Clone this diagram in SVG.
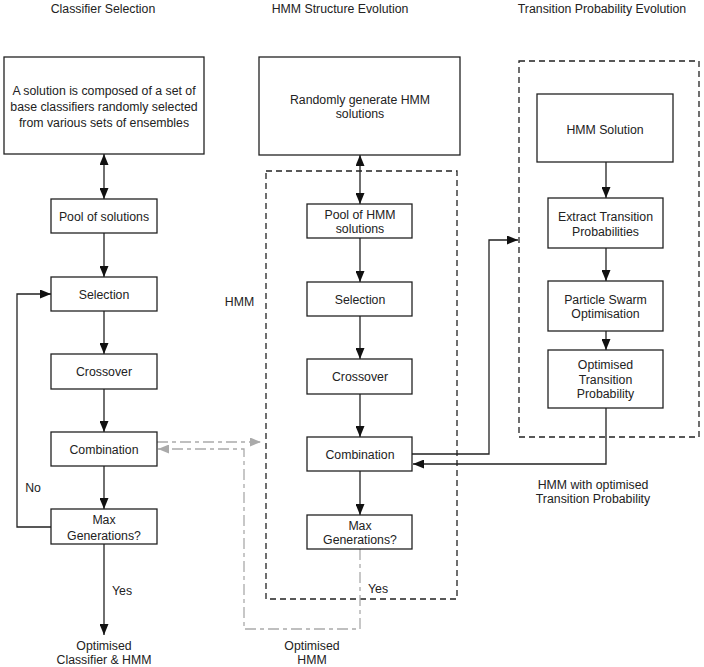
<svg xmlns="http://www.w3.org/2000/svg" width="704" height="667" viewBox="0 0 704 667">
<style>
text{font-family:"Liberation Sans",Arial,Helvetica,sans-serif;font-size:12.3px;fill:#222;text-anchor:middle}
.box{fill:#fff;stroke:#222;stroke-width:1.3}
.dash{fill:none;stroke:#222;stroke-width:1.3;stroke-dasharray:6 4}
.ln{fill:none;stroke:#222;stroke-width:1.3}
.gr{fill:none;stroke:#aaa;stroke-width:1.3;stroke-dasharray:11 4 4 4}
</style>
<defs>
<marker id="ah" viewBox="0 0 11 9" refX="11" refY="4.5" markerWidth="11" markerHeight="9" markerUnits="userSpaceOnUse" orient="auto-start-reverse"><path d="M0,0 L11,4.5 L0,9 z" fill="#111"/></marker>
<marker id="ag" viewBox="0 0 11 9" refX="11" refY="4.5" markerWidth="11" markerHeight="9" markerUnits="userSpaceOnUse" orient="auto"><path d="M0,0 L11,4.5 L0,9 z" fill="#aaa"/></marker>
</defs>
<g id="titles">
<text x="103" y="13">Classifier Selection</text>
<text x="340" y="13">HMM Structure Evolution</text>
<text x="602" y="13">Transition Probability Evolution</text>
</g>
<g id="containers">
<rect id="hmm-container" class="dash" x="266" y="171" width="191" height="428"/>
<rect id="tp-container" class="dash" x="519" y="61" width="180" height="376"/>
</g>
<g id="connectors">
<line class="ln" x1="104" y1="154" x2="104" y2="199" marker-start="url(#ah)" marker-end="url(#ah)"/>
<line class="ln" x1="104" y1="233" x2="104" y2="277" marker-end="url(#ah)"/>
<line class="ln" x1="104" y1="311" x2="104" y2="354" marker-end="url(#ah)"/>
<line class="ln" x1="104" y1="389" x2="104" y2="432" marker-end="url(#ah)"/>
<line class="ln" x1="104" y1="466" x2="104" y2="509" marker-end="url(#ah)"/>
<line class="ln" x1="104" y1="544" x2="104" y2="635" marker-end="url(#ah)"/>
<polyline class="ln" points="51,527 17,527 17,294 51,294" marker-end="url(#ah)"/>
<line class="ln" x1="360" y1="155" x2="360" y2="204" marker-start="url(#ah)" marker-end="url(#ah)"/>
<line class="ln" x1="360" y1="238" x2="360" y2="282" marker-end="url(#ah)"/>
<line class="ln" x1="360" y1="316" x2="360" y2="359" marker-end="url(#ah)"/>
<line class="ln" x1="360" y1="394" x2="360" y2="437" marker-end="url(#ah)"/>
<line class="ln" x1="360" y1="471" x2="360" y2="515" marker-end="url(#ah)"/>
<polyline class="ln" points="412,454 489,454 489,240 518,240" marker-end="url(#ah)"/>
<polyline class="ln" points="606,408 606,464 413,464" marker-end="url(#ah)"/>
<line class="ln" x1="606" y1="162" x2="606" y2="198" marker-end="url(#ah)"/>
<line class="ln" x1="606" y1="248" x2="606" y2="281" marker-end="url(#ah)"/>
<line class="ln" x1="606" y1="331" x2="606" y2="350" marker-end="url(#ah)"/>
<line class="gr" x1="157" y1="442" x2="261" y2="442" marker-end="url(#ag)"/>
<polyline class="gr" points="360,549 360,629 244,629 244,449 158,449" marker-end="url(#ag)"/>
</g>
<g id="n-cs-top"><rect class="box" x="4" y="57" width="200" height="97"/><text x="104" y="95">A solution is composed of a set of</text><text x="104" y="111">base classifiers randomly selected</text><text x="104" y="127">from various sets of ensembles</text></g>
<g id="n-cs-pool"><rect class="box" x="51" y="199" width="106" height="34"/><text x="104" y="221">Pool of solutions</text></g>
<g id="n-cs-sel"><rect class="box" x="51" y="277" width="106" height="34"/><text x="104" y="298.5">Selection</text></g>
<g id="n-cs-cross"><rect class="box" x="51" y="354" width="106" height="35"/><text x="104" y="376">Crossover</text></g>
<g id="n-cs-comb"><rect class="box" x="51" y="432" width="106" height="34"/><text x="104" y="453.5">Combination</text></g>
<g id="n-cs-max"><rect class="box" x="51" y="509" width="106" height="35"/><text x="104" y="524">Max</text><text x="104" y="539.5">Generations?</text></g>
<g id="n-hs-top"><rect class="box" x="259" y="57" width="201" height="98"/><text x="360" y="103.5">Randomly generate HMM</text><text x="360" y="118">solutions</text></g>
<g id="n-hs-pool"><rect class="box" x="307" y="204" width="105" height="34"/><text x="360" y="219">Pool of HMM</text><text x="360" y="233">solutions</text></g>
<g id="n-hs-sel"><rect class="box" x="307" y="282" width="105" height="34"/><text x="360" y="303.5">Selection</text></g>
<g id="n-hs-cross"><rect class="box" x="307" y="359" width="105" height="35"/><text x="360" y="381">Crossover</text></g>
<g id="n-hs-comb"><rect class="box" x="307" y="437" width="105" height="34"/><text x="360" y="458.5">Combination</text></g>
<g id="n-hs-max"><rect class="box" x="307" y="515" width="105" height="34"/><text x="360" y="529.5">Max</text><text x="360" y="544">Generations?</text></g>
<g id="n-tp-sol"><rect class="box" x="537" y="94" width="136" height="68"/><text x="605" y="133.5">HMM Solution</text></g>
<g id="n-tp-ext"><rect class="box" x="548" y="198" width="115" height="50"/><text x="605.5" y="220.5">Extract Transition</text><text x="605.5" y="235.5">Probabilities</text></g>
<g id="n-tp-pso"><rect class="box" x="548" y="281" width="115" height="50"/><text x="605.5" y="303.5">Particle Swarm</text><text x="605.5" y="318">Optimisation</text></g>
<g id="n-tp-opt"><rect class="box" x="548" y="350" width="115" height="58"/><text x="605.5" y="369">Optimised</text><text x="605.5" y="383.5">Transition</text><text x="605.5" y="398">Probability</text></g>
<g id="labels">
<text x="239.5" y="305.5">HMM</text>
<text x="33" y="491.5">No</text>
<text x="122" y="594.5">Yes</text>
<text x="378" y="592.5">Yes</text>
<text x="104" y="649.5">Optimised</text>
<text x="104" y="663.5">Classifier &amp; HMM</text>
<text x="312" y="649.5">Optimised</text>
<text x="312" y="663.5">HMM</text>
<text x="593" y="488.5">HMM with optimised</text>
<text x="593" y="502.5">Transition Probability</text>
</g>
</svg>
